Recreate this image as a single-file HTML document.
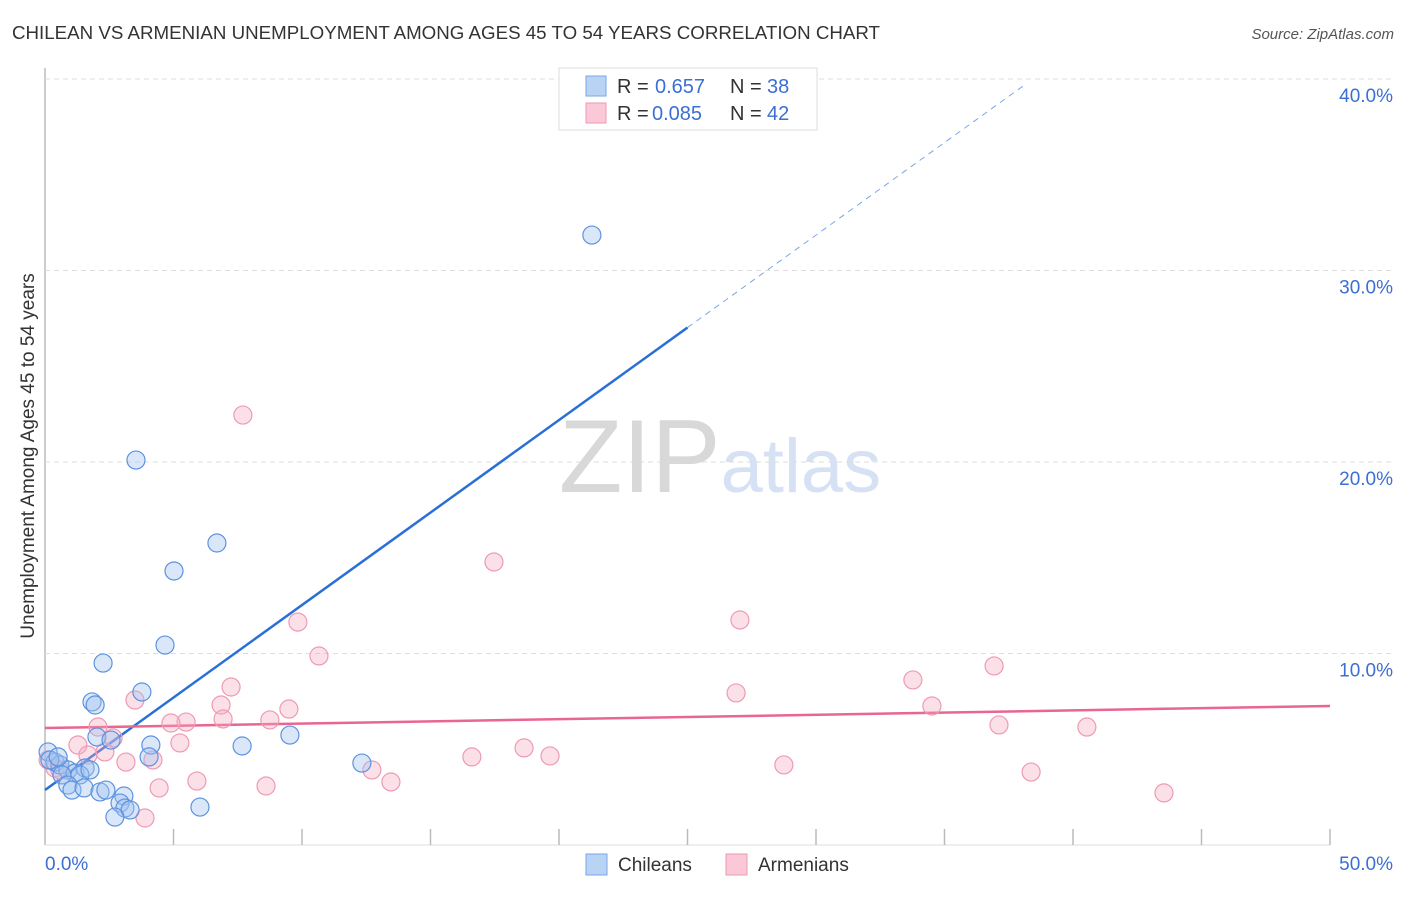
<!DOCTYPE html>
<html><head><meta charset="utf-8"><style>
body{margin:0;background:#fff;font-family:"Liberation Sans",sans-serif;}
svg text{font-family:"Liberation Sans",sans-serif;}
</style></head><body>
<svg id="chart" width="1406" height="892" viewBox="0 0 1406 892" xmlns="http://www.w3.org/2000/svg">
<text x="12" y="39" font-size="18" fill="#333" textLength="868" lengthAdjust="spacingAndGlyphs">CHILEAN VS ARMENIAN UNEMPLOYMENT AMONG AGES 45 TO 54 YEARS CORRELATION CHART</text>
<text x="1394" y="39" font-size="15" fill="#555" text-anchor="end" font-style="italic">Source: ZipAtlas.com</text>
<text x="720" y="492" font-size="104" text-anchor="middle" fill="#ddd" font-family="Liberation Serif"><tspan fill="#d8d8d8">ZIP</tspan><tspan fill="#d6e2f3" font-family="Liberation Sans" font-size="76">atlas</tspan></text>
<text transform="translate(34,456) rotate(-90)" font-size="19" fill="#333" text-anchor="middle">Unemployment Among Ages 45 to 54 years</text>
<g id="grid"></g><g id="trend"></g><g id="pts"></g>
<g>
<rect x="559" y="68" width="258" height="62" fill="#fff" stroke="#ddd"/>
<rect x="586" y="76" width="20" height="20" fill="#b9d3f5" stroke="#7aa6e6"/>
<rect x="586" y="103" width="20" height="20" fill="#fbc8d8" stroke="#ee9ab5"/>
<text x="617" y="93" font-size="20" fill="#333">R = </text><text x="655" y="93" font-size="20" fill="#3b6fd4">0.657</text>
<text x="730" y="93" font-size="20" fill="#333">N = </text><text x="767" y="93" font-size="20" fill="#3b6fd4">38</text>
<text x="617" y="120" font-size="20" fill="#333">R = </text><text x="652" y="120" font-size="20" fill="#3b6fd4">0.085</text>
<text x="730" y="120" font-size="20" fill="#333">N = </text><text x="767" y="120" font-size="20" fill="#3b6fd4">42</text>
</g>
<g>
<rect x="586" y="854" width="21" height="21" fill="#b9d3f5" stroke="#7aa6e6"/>
<text x="618" y="871" font-size="19" fill="#333">Chileans</text>
<rect x="726" y="854" width="21" height="21" fill="#fbc8d8" stroke="#ee9ab5"/>
<text x="758" y="871" font-size="19" fill="#333">Armenians</text>
</g>
</svg>
<script>
const yTicks=[10,20,30,40];
const yTickLabels=["10.0%","20.0%","30.0%","40.0%"];
const xTicks=[0,5,10,15,20,25,30,35,40,45,50];
const blueX=[21.28,3.54,6.69,5.02,4.67,2.26,3.77,1.83,1.95,7.67,9.53,4.12,2.02,2.57,4.05,12.33,0.12,0.39,0.58,0.89,1.17,1.56,0.66,1.36,0.89,1.05,1.52,2.14,2.37,3.07,2.92,3.11,3.31,2.72,6.03,1.75,0.19,0.51];
const blueY=[31.85,20.10,15.77,14.31,10.44,9.50,7.99,7.47,7.31,5.17,5.74,5.22,5.64,5.48,4.60,4.28,4.86,4.33,4.18,3.92,3.76,4.02,3.66,3.66,3.13,2.87,2.98,2.77,2.87,2.56,2.19,1.93,1.83,1.46,1.98,3.92,4.44,4.60];
const pinkX=[7.70,17.47,27.04,9.84,10.66,36.93,33.77,26.89,7.24,3.50,6.85,34.51,5.49,4.90,6.93,8.75,9.49,2.06,37.12,40.54,2.65,5.25,1.28,2.33,18.64,19.65,16.61,4.20,3.15,28.75,12.72,38.37,13.46,5.91,8.60,4.44,3.89,43.54,0.12,0.39,0.58,1.67];
const pinkY=[22.45,14.78,11.75,11.64,9.87,9.35,8.62,7.94,8.25,7.57,7.31,7.26,6.42,6.37,6.58,6.53,7.10,6.16,6.27,6.16,5.59,5.33,5.22,4.86,5.07,4.65,4.60,4.44,4.33,4.18,3.92,3.81,3.29,3.34,3.08,2.98,1.41,2.72,4.44,4.02,3.92,4.70];
const blueTrend=[2.87,0.966]; // intercept, slope
const pinkTrend=[6.11,0.023];
const NS="http://www.w3.org/2000/svg";
const sx=v=>45+v*25.7, sy=v=>845-v*19.15;
function mk(t,a,p){const e=document.createElementNS(NS,t);for(const k in a)e.setAttribute(k,a[k]);p.appendChild(e);return e;}
const grid=document.getElementById('grid');
const ax=mk('line',{x1:45,y1:68,x2:45,y2:845,stroke:'#bbb','stroke-width':1.5},grid);


const bx=mk('line',{x1:45,y1:845,x2:1330,y2:845,stroke:'#ddd','stroke-width':1},grid);


yTicks.forEach((t,i)=>{
 const g=mk('line',{x1:45,y1:sy(t),x2:1394,y2:sy(t),stroke:'#ddd','stroke-dasharray':'5,4'},grid);
 
 
 const l=mk('text',{x:1393,y:sy(t)+23,'font-size':19,fill:'#3b6fd4','text-anchor':'end'},grid);
 l.textContent=yTickLabels[i];
 
 
});
xTicks.slice(1).forEach(t=>{
 const k=mk('line',{x1:sx(t),y1:829,x2:sx(t),y2:845,stroke:'#bbb','stroke-width':1.5},grid);
 
 
});
const x0=mk('text',{x:45,y:870,'font-size':19,fill:'#3b6fd4'},grid);x0.textContent='0.0%';


const x1=mk('text',{x:1393,y:870,'font-size':19,fill:'#3b6fd4','text-anchor':'end'},grid);x1.textContent='50.0%';


const tr=document.getElementById('trend');
const pts=document.getElementById('pts');
pinkX.forEach((x,i)=>{const c=mk('circle',{cx:sx(x),cy:sy(pinkY[i]),r:9,fill:'rgba(246,165,190,0.35)',stroke:'#ee9ab5','stroke-width':1.2},pts);

});
blueX.forEach((x,i)=>{const c=mk('circle',{cx:sx(x),cy:sy(blueY[i]),r:9,fill:'rgba(160,195,240,0.4)',stroke:'#5d92e0','stroke-width':1.2},pts);

});
const bl=mk('line',{x1:sx(0),y1:sy(blueTrend[0]),x2:sx(25),y2:sy(blueTrend[0]+blueTrend[1]*25),stroke:'#2a6fd6','stroke-width':2.5},tr);


const bd=mk('line',{x1:sx(25),y1:sy(blueTrend[0]+blueTrend[1]*25),x2:sx(38.1),y2:sy(blueTrend[0]+blueTrend[1]*38.1),stroke:'#7aa6e6','stroke-width':1,'stroke-dasharray':'6,5'},tr);


const pl=mk('line',{x1:sx(0),y1:sy(pinkTrend[0]),x2:sx(50),y2:sy(pinkTrend[0]+pinkTrend[1]*50),stroke:'#e8668f','stroke-width':2.5},tr);


</script>
</body></html>
